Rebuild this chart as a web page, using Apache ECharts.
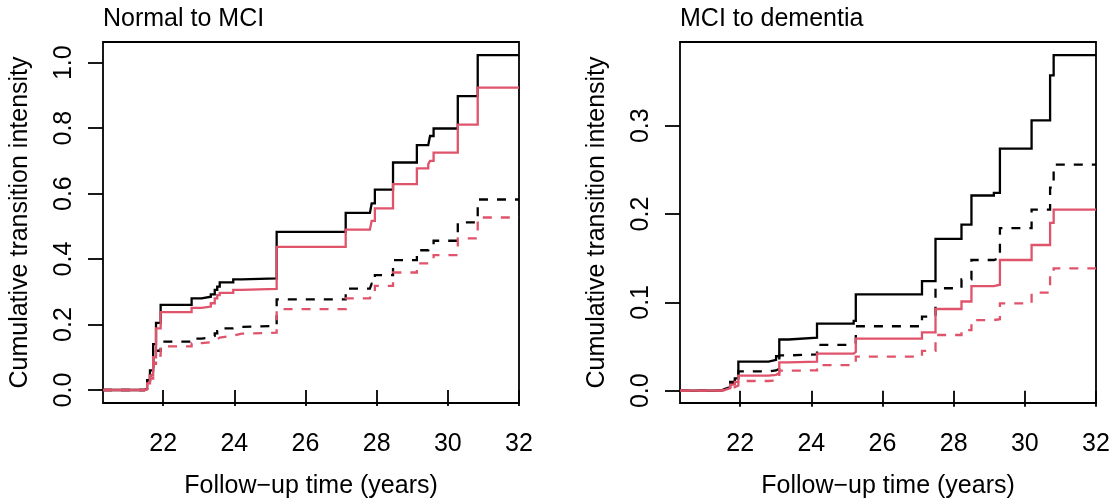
<!DOCTYPE html>
<html>
<head>
<meta charset="utf-8">
<script src="https://cdn.jsdelivr.net/npm/echarts@6/dist/echarts.min.js"></script>
<style>
html,body{margin:0;padding:0;background:#fff;}
#chart{width:1114px;height:504px;}
</style>
</head>
<body>
<div id="chart"></div>
<script>
// ---- Data ----
const panelTitles = ['Normal to MCI', 'MCI to dementia'];
const xAxisTitle = 'Follow\u2212up time (years)';
const yAxisTitle = 'Cumulative transition intensity';
const xTicks = [22, 24, 26, 28, 30, 32];
const yTicksLeft = [0, 0.2, 0.4, 0.6, 0.8, 1.0];
const yTicksRight = [0, 0.1, 0.2, 0.3];

// Panel 1: Normal to MCI (step times and cumulative values)
const nmTimes = [20.31, 21.48, 21.55, 21.63, 21.72, 21.80, 21.93, 22.80, 23.08, 23.34, 23.45, 23.52, 23.59, 23.97, 24.21, 25.19, 27.13, 27.81, 27.86, 27.95, 28.46, 29.13, 29.45, 29.50, 29.60, 30.28, 30.84, 32.0];
const nmBlackSolid  = [0, 0.005, 0.03, 0.06, 0.14, 0.205, 0.26, 0.280, 0.285, 0.292, 0.306, 0.316, 0.329, 0.338, 0.341, 0.483, 0.541, 0.546, 0.570, 0.612, 0.695, 0.748, 0.753, 0.776, 0.799, 0.898, 1.023, 1.023];
const nmRedSolid    = [0, 0.003, 0.02, 0.045, 0.10, 0.188, 0.238, 0.251, 0.255, 0.265, 0.280, 0.290, 0.297, 0.306, 0.309, 0.437, 0.490, 0.493, 0.517, 0.555, 0.629, 0.677, 0.690, 0.700, 0.725, 0.811, 0.924, 0.924];
const nmBlackDashed = [0, 0.003, 0.02, 0.045, 0.11, 0.12, 0.148, 0.157, 0.160, 0.165, 0.173, 0.180, 0.188, 0.193, 0.196, 0.277, 0.310, 0.313, 0.325, 0.351, 0.397, 0.427, 0.432, 0.445, 0.456, 0.512, 0.582, 0.582];
const nmRedDashed   = [0, 0.002, 0.015, 0.035, 0.08, 0.105, 0.133, 0.143, 0.146, 0.150, 0.155, 0.160, 0.166, 0.172, 0.175, 0.247, 0.280, 0.283, 0.295, 0.318, 0.359, 0.387, 0.392, 0.400, 0.412, 0.463, 0.527, 0.527];

// Panel 2: MCI to dementia
const mdTimes = [20.31, 21.44, 21.58, 21.72, 21.85, 21.95, 22.80, 23.01, 23.10, 23.36, 24.16, 25.19, 25.25, 27.11, 27.49, 28.22, 28.50, 29.13, 29.30, 30.19, 30.71, 30.81, 32.0];
const mdBlackSolid  = [0, 0.002, 0.004, 0.010, 0.014, 0.033, 0.035, 0.039, 0.058, 0.060, 0.076, 0.079, 0.109, 0.124, 0.172, 0.188, 0.221, 0.224, 0.274, 0.306, 0.357, 0.380, 0.380];
const mdBlackDashed = [0, 0.001, 0.003, 0.008, 0.012, 0.022, 0.023, 0.025, 0.040, 0.041, 0.052, 0.054, 0.073, 0.084, 0.116, 0.126, 0.148, 0.150, 0.184, 0.205, 0.230, 0.256, 0.256];
const mdRedSolid    = [0, 0.001, 0.003, 0.007, 0.010, 0.017, 0.018, 0.020, 0.032, 0.033, 0.042, 0.044, 0.059, 0.066, 0.0925, 0.101, 0.1185, 0.120, 0.148, 0.165, 0.190, 0.205, 0.205];
const mdRedDashed   = [0, 0.001, 0.002, 0.004, 0.006, 0.011, 0.0115, 0.013, 0.0227, 0.023, 0.029, 0.030, 0.0385, 0.045, 0.0631, 0.0687, 0.080, 0.081, 0.099, 0.111, 0.130, 0.1385, 0.1385];

// ---- Styling ----
const FONT = '"Liberation Sans", Arial, Helvetica, sans-serif';
const FS = 25;
const BLACK = '#000000';
const RED = '#DF536B';
const LW = 2.3;
const DASH = [9, 9];

function pairs(times, vals) { return times.map((t, i) => [t, vals[i]]); }

function xAxisFor(gridIndex) {
  return {
    type: 'value', gridIndex: gridIndex, min: 20.31, max: 32.0,
    axisLine: { show: false },
    axisTick: { show: true, inside: false, length: 16, customValues: xTicks, lineStyle: { color: '#000', width: 1.8 } },
    axisLabel: { show: true, customValues: xTicks, margin: 29, color: '#000', fontFamily: FONT, fontSize: FS },
    splitLine: { show: false },
    name: xAxisTitle, nameLocation: 'middle', nameGap: 71,
    nameTextStyle: { color: '#000', fontFamily: FONT, fontSize: FS }
  };
}
function yAxisFor(gridIndex, min, max, ticks) {
  return {
    type: 'value', gridIndex: gridIndex, min: min, max: max,
    axisLine: { show: false },
    axisTick: { show: true, inside: false, length: 15, customValues: ticks, lineStyle: { color: '#000', width: 1.8 } },
    axisLabel: { show: true, customValues: ticks, rotate: 90, align: 'center', verticalAlign: 'bottom', margin: 26,
      color: '#000', fontFamily: FONT, fontSize: FS, formatter: v => Number(v).toFixed(1) },
    splitLine: { show: false },
    name: yAxisTitle, nameLocation: 'middle', nameGap: 70, nameRotate: 90,
    nameTextStyle: { color: '#000', fontFamily: FONT, fontSize: FS }
  };
}
function stepSeries(idx, times, vals, color, dashed) {
  return {
    type: 'line', xAxisIndex: idx, yAxisIndex: idx, step: 'end',
    data: pairs(times, vals), showSymbol: false, symbol: 'none', silent: true,
    lineStyle: { color: color, width: LW, type: dashed ? DASH : 'solid', cap: 'butt', join: 'miter' }
  };
}

const chart = echarts.init(document.getElementById('chart'), null, { renderer: 'canvas' });
chart.setOption({
  animation: false,
  backgroundColor: '#fff',
  title: [
    { text: panelTitles[0], left: 103, top: 7, padding: 0, textStyle: { color: '#000', fontFamily: FONT, fontSize: FS, fontWeight: 'normal' } },
    { text: panelTitles[1], left: 680, top: 7, padding: 0, textStyle: { color: '#000', fontFamily: FONT, fontSize: FS, fontWeight: 'normal' } }
  ],
  grid: [
    { left: 103, top: 42, width: 416, height: 361, show: true, borderColor: '#000', borderWidth: 1.8, backgroundColor: 'transparent' },
    { left: 680, top: 42, width: 416, height: 361, show: true, borderColor: '#000', borderWidth: 1.8, backgroundColor: 'transparent' }
  ],
  xAxis: [xAxisFor(0), xAxisFor(1)],
  yAxis: [yAxisFor(0, -0.0397, 1.0632, yTicksLeft), yAxisFor(1, -0.0139, 0.3948, yTicksRight)],
  series: [
    stepSeries(0, nmTimes, nmBlackSolid, BLACK, false),
    stepSeries(0, nmTimes, nmBlackDashed, BLACK, true),
    stepSeries(0, nmTimes, nmRedSolid, RED, false),
    stepSeries(0, nmTimes, nmRedDashed, RED, true),
    stepSeries(1, mdTimes, mdBlackSolid, BLACK, false),
    stepSeries(1, mdTimes, mdBlackDashed, BLACK, true),
    stepSeries(1, mdTimes, mdRedSolid, RED, false),
    stepSeries(1, mdTimes, mdRedDashed, RED, true)
  ]
});
</script>
</body>
</html>
